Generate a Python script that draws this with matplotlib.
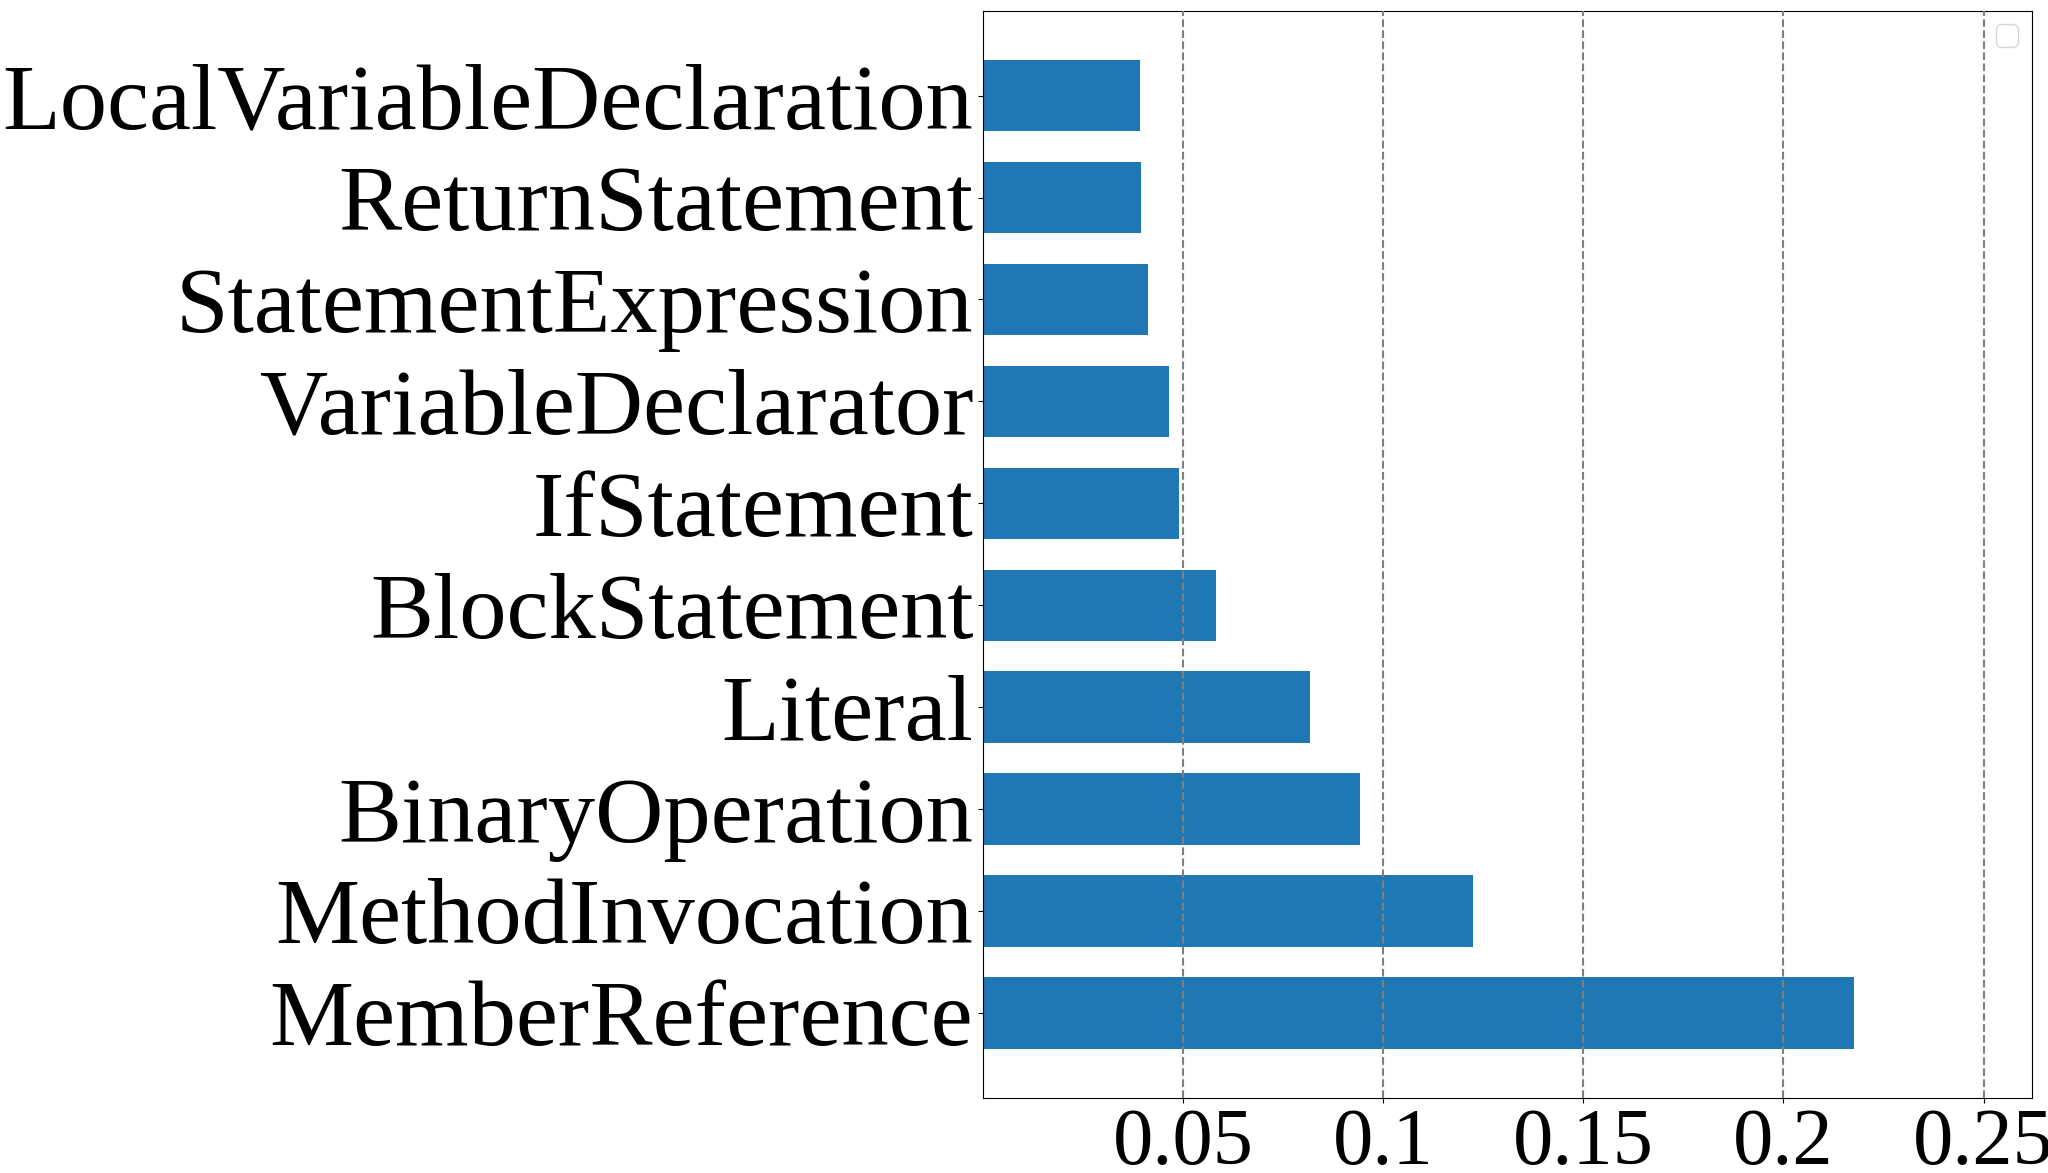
import matplotlib
matplotlib.use("Agg")
import matplotlib.pyplot as plt

categories = ["MemberReference", "MethodInvocation", "BinaryOperation", "Literal",
              "BlockStatement", "IfStatement", "VariableDeclarator",
              "StatementExpression", "ReturnStatement", "LocalVariableDeclaration"]
values = [0.2176, 0.1225, 0.0941, 0.0817, 0.0582, 0.0490, 0.0464, 0.0412, 0.0395, 0.0392]
xticks = [0.05, 0.1, 0.15, 0.2, 0.25]
xticklabels = ["0.05", "0.1", "0.15", "0.2", "0.25"]

plt.rcParams['font.family'] = ['Liberation Serif', 'DejaVu Serif']

fig = plt.figure(figsize=(20.48, 11.73), dpi=100)
ax = fig.add_axes([0.480, 0.064, 0.512, 0.927])
ax.barh(range(len(categories)), values, height=0.7, color='#1f77b4')
ax.set_yticks(range(len(categories)))
ax.set_yticklabels(categories, fontsize=68)
ax.set_xticks(xticks)
ax.set_xticklabels(xticklabels, fontsize=58)
ax.set_xlim(0, 0.262)
ax.grid(axis='x', linestyle='--', color='gray', linewidth=1.5)
ax.set_axisbelow(False)
ax.legend(fontsize=20, loc='upper right')
fig.savefig("out.png", dpi=100)
